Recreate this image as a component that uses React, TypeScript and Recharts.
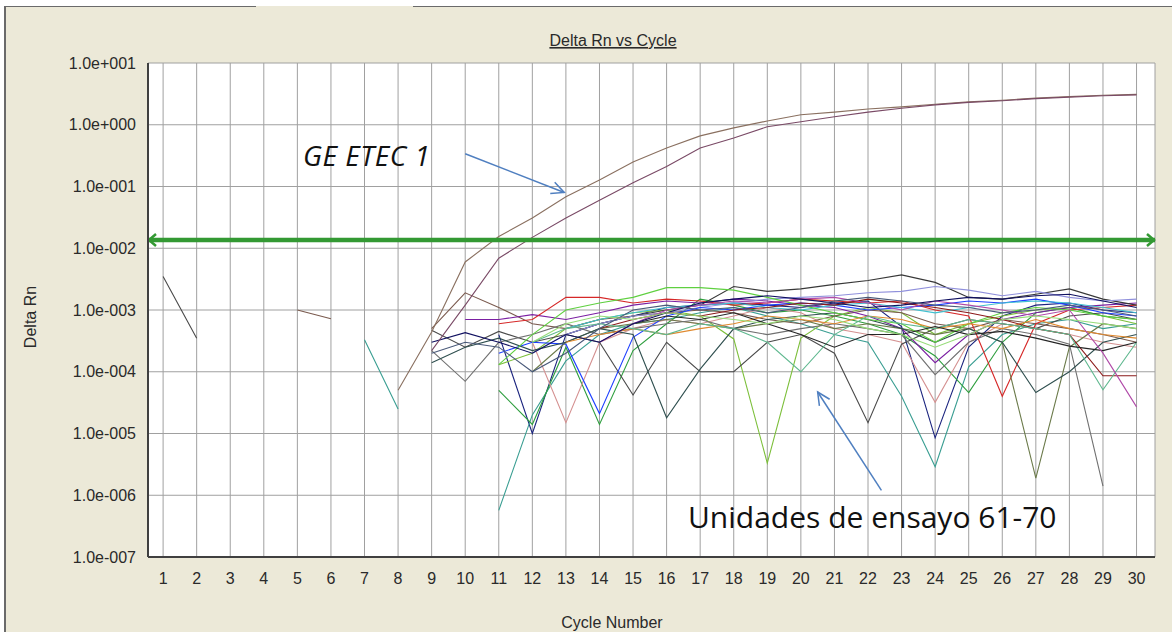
import { LineChart, Line, XAxis, YAxis, CartesianGrid, ReferenceLine } from 'recharts';

const n = null;

const cycles = [1, 2, 3, 4, 5, 6, 7, 8, 9, 10, 11, 12, 13, 14, 15, 16, 17, 18, 19, 20, 21, 22, 23, 24, 25, 26, 27, 28, 29, 30];
const yTicks = [1e-7, 1e-6, 1e-5, 1e-4, 1e-3, 1e-2, 1e-1, 1, 10];
const threshold = 0.0136;

// the two positive wells (GE ETEC 1)
const geEtecA = [n, n, n, n, n, n, n, 5e-5, 4.4e-4, 6e-3, 1.55e-2, 3.1e-2, 6.8e-2, 0.127, 0.25, 0.42, 0.66, 0.89, 1.15, 1.45, 1.6, 1.8, 1.95, 2.15, 2.35, 2.5, 2.7, 2.85, 3.0, 3.1];
const geEtecB = [n, n, n, n, n, n, n, n, 2.2e-4, 1.2e-3, 6.9e-3, 1.5e-2, 3.1e-2, 6e-2, 0.115, 0.21, 0.42, 0.61, 0.93, 1.12, 1.35, 1.6, 1.85, 2.1, 2.3, 2.45, 2.65, 2.8, 2.95, 3.05];

// assay units 61-70 (noise below threshold)
const u01 = [n, n, n, n, n, n, n, n, n, n, 4e-4, 1e-5, 4e-4, 6e-4, 8e-4, 1.1e-3, 1.2e-3, 1.3e-3, 1.2e-3, 1.1e-3, 1.3e-3, 1.4e-3, 5.4e-4, 8.5e-6, 2.5e-4, 8e-4, 1.2e-3, 1.3e-3, 1e-3, 9e-4];
const u02 = [n, n, n, n, n, n, 3.3e-4, 2.5e-5, n, n, 5.7e-7, 2e-5, 1.5e-4, 4e-4, 6e-4, 7e-4, 9e-4, 1.1e-3, 8e-4, 6e-4, 4e-4, 3e-4, 4e-5, 2.9e-6, 1.2e-4, 4e-4, 6e-4, 7e-4, 5e-4, 6e-4];
const u03 = [n, n, n, n, n, n, n, n, n, n, 1.3e-4, 2e-4, 5e-4, 7e-4, 9e-4, 1e-3, 8e-4, 3.4e-4, 3.3e-6, 3.5e-4, 8e-4, 1.1e-3, 9e-4, 4e-4, 6e-4, 8e-4, 1e-3, 1.1e-3, 8e-4, 6e-4];
const u04 = [n, n, n, n, n, n, n, n, n, n, 5e-5, 1.4e-5, 2.5e-4, 1.4e-5, 2.2e-4, 6e-4, 1.5e-3, 1.2e-3, 9e-4, 1e-3, 8e-4, 6e-4, 4e-4, 1.8e-4, 4.6e-5, 3e-4, 9e-4, 1.1e-3, 8e-4, 7e-4];
const u05 = [n, n, n, n, n, n, n, n, n, n, n, 3e-4, 1.5e-5, 3e-4, 5e-4, 7e-4, 6e-4, 8e-4, 1.1e-3, 9e-4, 5e-4, 4e-4, 3e-4, 3.2e-5, 3e-4, 6e-4, 5e-4, 4e-4, 3e-4, 2.5e-4];
const u06 = [3.5e-3, 3.5e-4, n, n, n, n, n, n, 4.7e-4, 2.5e-4, 4.5e-4, 3e-4, 4e-4, 3e-4, 4.2e-5, 3e-4, 1e-4, 1e-4, 3e-4, 4e-4, 2e-4, 1.5e-5, 2.8e-4, 5e-4, 7e-4, 6e-4, 5e-4, 8e-4, 9e-4, 7e-4];
const u07 = [n, n, n, n, 1e-3, 7.2e-4, n, n, 5e-4, 1.9e-3, 1.1e-3, 6e-4, 5e-4, 7e-4, 8e-4, 9e-4, 1e-3, 9e-4, 7e-4, 6e-4, 8e-4, 1e-3, 9e-4, 6e-4, 5e-4, 7e-4, 6e-4, 5e-4, 4e-4, 3e-4];
const u08 = [n, n, n, n, n, n, n, n, n, 7e-4, 7e-4, 8.4e-4, 7e-4, 9e-4, 1.2e-3, 1.4e-3, 1.3e-3, 1.5e-3, 1.4e-3, 1.2e-3, 1.1e-3, 8e-4, 5e-4, 1.4e-4, 4e-4, 7e-4, 9e-4, 1.1e-3, 1.2e-3, 1.3e-3];
const u09 = [n, n, n, n, n, n, n, n, n, n, 6e-4, 7e-4, 1.6e-3, 1.6e-3, 1.3e-3, 1.5e-3, 1.4e-3, 1.2e-3, 1.3e-3, 1.5e-3, 1.4e-3, 1.3e-3, 1.4e-3, 1e-3, 8e-4, 4e-5, 6e-4, 1e-3, 1.1e-3, 1.2e-3];
const u10 = [n, n, n, n, n, n, n, n, n, n, n, n, 4e-4, 6e-4, 8e-4, 1e-3, 1.2e-3, 2.4e-3, 2e-3, 2.2e-3, 2.6e-3, 3e-3, 3.7e-3, 2.8e-3, 1.6e-3, 1.5e-3, 1.8e-3, 2.2e-3, 1.5e-3, 1.2e-3];
const u11 = [n, n, n, n, n, n, n, n, n, n, n, 2e-4, 4e-4, 6e-4, 8e-4, 9e-4, 1.1e-3, 1.3e-3, 1.5e-3, 1.6e-3, 1.7e-3, 1.9e-3, 2e-3, 2.4e-3, 2.1e-3, 1.7e-3, 2e-3, 1.6e-3, 1.4e-3, 1.5e-3];
const u12 = [n, n, n, n, n, n, n, n, n, n, 2e-4, 3e-4, 2.8e-4, 2.1e-5, 3.6e-4, 8e-4, 1.1e-3, 1e-3, 1.2e-3, 1.3e-3, 1.2e-3, 1e-3, 1.1e-3, 1.2e-3, 1.4e-3, 1.3e-3, 1.5e-3, 1.2e-3, 9e-4, 8e-4];
const u13 = [n, n, n, n, n, n, n, n, n, n, n, 1e-4, 3e-4, 5e-4, 6e-4, 7e-4, 6e-4, 5e-4, 6e-4, 7e-4, 5e-4, 6e-4, 5e-4, 4e-4, 5e-4, 3e-4, 1.9e-6, 2.5e-4, 6e-4, 5e-4];
const u14 = [n, n, n, n, n, n, n, n, 2.2e-4, 7e-5, 3e-4, 4e-4, 6e-4, 4e-4, 5e-4, 6e-4, 7e-4, 5e-4, 4e-4, 5e-4, 6e-4, 5e-4, 4e-4, 9e-5, 3e-4, 5e-4, 4e-4, 2.8e-4, 1.4e-6, n];
const u15 = [n, n, n, n, n, n, n, n, n, n, n, n, 5e-4, 7e-4, 9e-4, 1.1e-3, 1.2e-3, 1.3e-3, 1.1e-3, 1e-3, 1.2e-3, 1.3e-3, 1.1e-3, 9e-4, 1.1e-3, 1.3e-3, 1.4e-3, 1.3e-3, 1.1e-3, 9e-4];
const u16 = [n, n, n, n, n, n, n, n, 1.4e-4, 2.5e-4, 3.5e-4, 2.2e-4, 3e-4, 5e-4, 4e-4, 1.8e-5, 1.1e-4, 5e-4, 7e-4, 8e-4, 9e-4, 7e-4, 5e-4, 3e-4, 5e-4, 3e-4, 4.6e-5, 1e-4, 3e-4, 4e-4];
const u17 = [n, n, n, n, n, n, n, n, n, n, 1.3e-4, 4e-4, 1e-3, 1.3e-3, 1.6e-3, 2.3e-3, 2.3e-3, 2.1e-3, 1.6e-3, 1.2e-3, 9e-4, 7e-4, 6e-4, 3e-4, 6e-4, 9e-4, 1.1e-3, 1e-3, 8e-4, 7e-4];
const u18 = [n, n, n, n, n, n, n, n, n, n, n, n, 3e-4, 4e-4, 5e-4, 4e-4, 5e-4, 6e-4, 8e-4, 7e-4, 6e-4, 8e-4, 7e-4, 5e-4, 6e-4, 5e-4, 7e-4, 5e-4, 4e-4, 3.5e-4];
const u19 = [n, n, n, n, n, n, n, n, n, n, n, n, n, 5e-4, 7e-4, 9e-4, 8e-4, 1e-3, 1.1e-3, 1.3e-3, 1.2e-3, 1.5e-3, 1.3e-3, 1.1e-3, 9e-4, 7e-4, 5e-4, 4e-4, 8.6e-5, 8.6e-5];
const u20 = [n, n, n, n, n, n, n, n, n, n, n, 3e-4, 5e-4, 6e-4, 5e-4, 4e-4, 6e-4, 5e-4, 3e-4, 1e-4, 4e-4, 8e-4, 6e-4, 5e-4, 7e-4, 6e-4, 5e-4, 4e-4, 5.1e-5, 3e-4];
const u21 = [n, n, n, n, n, n, n, n, n, n, n, n, n, n, 6e-4, 8e-4, 7e-4, 9e-4, 6e-4, 4e-4, 2.5e-4, 4e-4, 4e-4, 5.4e-4, 4e-4, 4.5e-4, 3.5e-4, 2.6e-4, 2.2e-4, 3e-4];
const u22 = [n, n, n, n, n, n, n, n, n, n, n, n, n, 3e-4, 6e-4, 1e-3, 1.2e-3, 1.4e-3, 1.3e-3, 1.5e-3, 1.6e-3, 1.3e-3, 1e-3, 1.4e-3, 1.2e-3, 1e-3, 8e-4, 1e-3, 2e-4, 2.7e-5];
const u23 = [n, n, n, n, n, n, n, n, 3e-4, 4.3e-4, 3e-4, 2e-4, 4e-4, 3e-4, 6e-4, 9e-4, 1.3e-3, 1.5e-3, 1.7e-3, 1.5e-3, 1.3e-3, 1.1e-3, 1.2e-3, 1.4e-3, 1.6e-3, 1.5e-3, 1.7e-3, 1.8e-3, 1.4e-3, 1.1e-3];
const u24 = [n, n, n, n, n, n, n, n, 2e-4, 3e-4, 2.5e-4, 1e-4, 2e-4, 5e-4, 1e-3, 1.2e-3, 1e-3, 1.1e-3, 9e-4, 1.1e-3, 1.4e-3, 1.6e-3, 1.4e-3, 1.2e-3, 1.1e-3, 9e-4, 1e-3, 1.2e-3, 1e-3, 8e-4];
const u25 = [n, n, n, n, n, n, n, n, n, n, n, 3e-4, 6e-4, 8e-4, 7e-4, 9e-4, 8e-4, 7e-4, 6e-4, 8e-4, 7e-4, 5e-4, 4e-4, 2.5e-4, 4e-4, 7e-4, 8e-4, 7e-4, 6e-4, 5e-4];

// annotation arrows, in data units (cycle, Delta Rn)
const geArrow = [{ x: 10.0, y: 0.34 }, { x: 12.95, y: 0.08 }];
const unitsArrow = [{ x: 22.4, y: 1.2e-6 }, { x: 20.5, y: 4.7e-5 }];

const series = [
  { key: 'u01', color: '#1a237e', values: u01 },
  { key: 'u02', color: '#3a9e92', values: u02 },
  { key: 'u03', color: '#7cbf3a', values: u03 },
  { key: 'u04', color: '#2e9e3e', values: u04 },
  { key: 'u05', color: '#d49090', values: u05 },
  { key: 'u06', color: '#4a4a4a', values: u06 },
  { key: 'u07', color: '#7a5a4e', values: u07 },
  { key: 'u08', color: '#7b1fa2', values: u08 },
  { key: 'u09', color: '#d62828', values: u09 },
  { key: 'u10', color: '#383838', values: u10 },
  { key: 'u11', color: '#9090dc', values: u11 },
  { key: 'u12', color: '#1e40ff', values: u12 },
  { key: 'u13', color: '#6b7a4a', values: u13 },
  { key: 'u14', color: '#707070', values: u14 },
  { key: 'u15', color: '#40c0d0', values: u15 },
  { key: 'u16', color: '#2f4f4f', values: u16 },
  { key: 'u17', color: '#5fd040', values: u17 },
  { key: 'u18', color: '#e08a30', values: u18 },
  { key: 'u19', color: '#8b1a1a', values: u19 },
  { key: 'u20', color: '#5fb88f', values: u20 },
  { key: 'u21', color: '#262626', values: u21 },
  { key: 'u22', color: '#b04aa8', values: u22 },
  { key: 'u23', color: '#101060', values: u23 },
  { key: 'u24', color: '#4a5a7a', values: u24 },
  { key: 'u25', color: '#96dc78', values: u25 },
  { key: 'geA', color: '#8a7060', values: geEtecA },
  { key: 'geB', color: '#7a4a66', values: geEtecB },
];

const rows = cycles.map((c, i) => {
  const row: Record<string, number | null> = { cycle: c };
  series.forEach((s) => {
    row[s.key] = s.values[i];
  });
  return row;
});

function sci(v: number) {
  const [m, e] = v.toExponential(1).split('e');
  const ev = parseInt(e, 10);
  return `${m}e${ev < 0 ? '-' : '+'}${String(Math.abs(ev)).padStart(3, '0')}`;
}

function ThresholdShape(p: any) {
  const { x1, y1, x2, y2 } = p;
  const c = '#339933';
  return (
    <g>
      <line x1={x1} y1={y1} x2={x2} y2={y2} stroke={c} strokeWidth={4.5} />
      <polyline points={`${x1 + 8},${y1 - 6} ${x1 + 1},${y1} ${x1 + 8},${y1 + 6}`} fill="none" stroke={c} strokeWidth={2.5} />
      <polyline points={`${x2 - 8},${y2 - 6} ${x2 - 1},${y2} ${x2 - 8},${y2 + 6}`} fill="none" stroke={c} strokeWidth={2.5} />
    </g>
  );
}

function PointerShape(p: any) {
  const { x1, y1, x2, y2 } = p;
  const a = Math.atan2(y2 - y1, x2 - x1);
  const len = 14;
  const h1 = [x2 - len * Math.cos(a - 0.45), y2 - len * Math.sin(a - 0.45)];
  const h2 = [x2 - len * Math.cos(a + 0.45), y2 - len * Math.sin(a + 0.45)];
  const c = '#4f7fc0';
  return (
    <g>
      <line x1={x1} y1={y1} x2={x2} y2={y2} stroke={c} strokeWidth={1.5} />
      <polyline points={`${h1[0]},${h1[1]} ${x2},${y2} ${h2[0]},${h2[1]}`} fill="none" stroke={c} strokeWidth={1.5} />
    </g>
  );
}

const tickStyle = { fill: '#2a2a2a', fontSize: 16, fontFamily: '"Liberation Sans", Arial, sans-serif' };
const labelFont = '"Liberation Sans", Arial, sans-serif';

export default function App() {
  return (
    <div style={{ position: 'absolute', left: 0, top: 0, width: 1172, height: 634, background: '#fff', overflow: 'hidden' }}>
      <div style={{ position: 'absolute', left: 4, top: 6, right: 0, bottom: 2, background: '#ECE9D8', borderLeft: '2px solid #6a6a6a' }} />
      <div style={{ position: 'absolute', left: 4, top: 6, width: 252, height: 1, background: '#6a6a6a' }} />
      <div style={{ position: 'absolute', left: 413, top: 6, right: 0, height: 1, background: '#6a6a6a' }} />
      <div style={{ position: 'absolute', left: 0, top: 0 }}>
        <LineChart width={1172} height={634} data={rows} margin={{ top: 63, right: 17, bottom: 0, left: 0 }}>
          <CartesianGrid stroke="#a0a0a0" fill="#ffffff" />
          <XAxis
            dataKey="cycle"
            type="number"
            domain={[0.55, 30.55]}
            ticks={cycles}
            interval={0}
            allowDataOverflow
            height={77}
            tickLine={false}
            tickMargin={10}
            axisLine={{ stroke: '#404040', strokeWidth: 2 }}
            tick={tickStyle}
          />
          <YAxis
            type="number"
            scale="log"
            domain={[1e-7, 10]}
            ticks={yTicks}
            allowDataOverflow
            width={148}
            tickLine={false}
            tickMargin={6}
            tickFormatter={sci}
            axisLine={{ stroke: '#404040', strokeWidth: 2 }}
            tick={tickStyle}
          />
          <YAxis
            yAxisId="r"
            orientation="right"
            type="number"
            scale="log"
            domain={[1e-7, 10]}
            allowDataOverflow
            width={0}
            tick={false}
            tickLine={false}
            axisLine={{ stroke: '#404040', strokeWidth: 2 }}
          />
          {series.map((s) => (
            <Line
              key={s.key}
              dataKey={s.key}
              type="linear"
              stroke={s.color}
              strokeWidth={1.1}
              dot={false}
              connectNulls={false}
              isAnimationActive={false}
            />
          ))}
          <ReferenceLine y={threshold} shape={ThresholdShape} />
          <ReferenceLine segment={geArrow} shape={PointerShape} />
          <ReferenceLine segment={unitsArrow} shape={PointerShape} />
        </LineChart>
      </div>
      <svg width={1172} height={634} style={{ position: 'absolute', left: 0, top: 0, pointerEvents: 'none' }}>
        <text x={613} y={46} textAnchor="middle" fontSize={16} fill="#2a2a2a" fontFamily={labelFont} textDecoration="underline">
          Delta Rn vs Cycle
        </text>
        <text transform="translate(36,317) rotate(-90)" textAnchor="middle" fontSize={16} fill="#2a2a2a" fontFamily={labelFont}>
          Delta Rn
        </text>
        <text x={612} y={628} textAnchor="middle" fontSize={16} fill="#2a2a2a" fontFamily={labelFont}>
          Cycle Number
        </text>
        <text x={303} y={166} fontSize={28} fontStyle="italic" fill="#111" fontFamily='"Open Sans", sans-serif' letterSpacing={0.5}>
          GE ETEC 1
        </text>
        <text x={688} y={528} fontSize={30} fill="#111" fontFamily='"Open Sans", sans-serif'>
          Unidades de ensayo 61-70
        </text>
      </svg>
    </div>
  );
}
